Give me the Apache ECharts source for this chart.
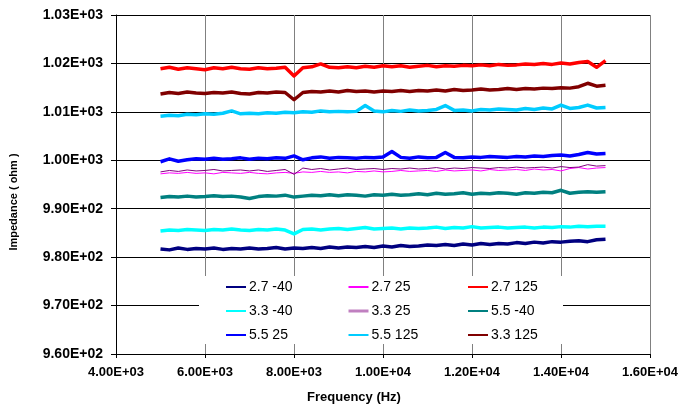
<!DOCTYPE html>
<html>
<head>
<meta charset="utf-8">
<script src="https://cdn.jsdelivr.net/npm/echarts@6/dist/echarts.min.js"></script>
<style>
html,body{margin:0;padding:0;background:#fff;}
#chart{width:682px;height:409px;}
</style>
</head>
<body>
<div id="chart"></div>
<script>
const freq = [5000,5200,5400,5600,5800,6000,6200,6400,6600,6800,
  7000,7200,7400,7600,7800,8000,8200,8400,8600,8800,
  9000,9200,9400,9600,9800,10000,10200,10400,10600,10800,
  11000,11200,11400,11600,11800,12000,12200,12400,12600,12800,
  13000,13200,13400,13600,13800,14000,14200,14400,14600,14800,15000];

const s27m40 = [981.7,981.5,981.9,981.6,981.8,981.7,981.9,981.6,981.8,981.7,
  981.9,981.7,981.8,982.0,981.7,981.9,981.8,982.0,981.8,982.1,
  981.9,982.1,982.0,982.2,982.0,982.3,982.1,982.4,982.2,982.3,
  982.5,982.4,982.6,982.4,982.7,982.5,982.8,982.6,982.8,982.7,
  983.0,982.8,983.1,982.9,983.2,983.1,983.3,983.4,983.2,983.6,983.7];
const s27p25 = [997.2,997.4,997.3,997.5,997.3,997.4,997.2,997.5,997.4,997.3,
  997.5,997.3,997.2,997.4,997.5,997.3,997.6,997.5,997.7,997.5,
  997.6,997.4,997.7,997.6,997.8,997.6,997.7,997.9,997.7,997.8,
  997.9,997.7,998.0,997.8,997.9,998.0,997.8,998.1,997.9,998.0,
  998.1,997.9,998.2,998.0,998.1,997.8,998.3,998.5,998.2,998.4,998.5];
const s27p125 = [1018.9,1019.2,1018.8,1019.1,1018.9,1018.7,1019.1,1018.9,1019.2,1018.9,
  1018.8,1019.1,1018.9,1019.0,1019.2,1017.4,1019.1,1019.3,1019.9,1019.2,
  1019.1,1019.3,1019.1,1019.4,1019.2,1019.5,1019.3,1019.5,1019.2,1019.4,
  1019.6,1019.3,1019.5,1019.4,1019.6,1019.5,1019.7,1019.5,1019.8,1019.6,
  1019.7,1019.9,1019.8,1020.0,1019.8,1020.1,1019.9,1020.2,1020.4,1019.2,1020.6];
const s33m40 = [985.4,985.6,985.5,985.7,985.6,985.5,985.7,985.6,985.8,985.6,
  985.5,985.7,985.6,985.8,985.6,984.8,985.7,985.8,985.6,985.8,
  985.9,985.7,985.9,986.1,985.8,985.9,986.0,985.8,986.0,985.9,
  986.0,986.2,985.9,986.1,986.0,986.3,986.0,986.1,986.2,986.0,
  986.1,986.2,986.0,986.2,986.1,986.3,986.2,986.4,986.3,986.4,986.4];
const s33p25 = [997.6,997.9,997.7,998.0,997.8,997.9,998.1,997.8,997.9,998.0,
  997.8,998.0,997.7,997.9,998.1,997.1,998.4,998.1,998.3,998.0,
  998.2,998.4,998.1,998.2,998.3,998.1,998.3,998.2,998.4,998.2,
  998.3,998.5,998.2,998.4,998.3,998.5,998.4,998.3,998.5,998.4,
  998.6,998.4,998.5,998.6,998.4,998.7,998.5,998.6,999.1,998.8,998.9];
const s55m40 = [992.3,992.5,992.4,992.6,992.4,992.5,992.7,992.5,992.6,992.4,
  992.1,992.5,992.7,992.6,992.8,992.4,992.6,992.8,992.7,992.9,
  992.7,992.9,992.8,992.6,992.9,992.8,993.0,992.8,992.9,993.1,
  992.9,993.2,993.0,993.1,993.3,993.0,993.2,993.1,993.3,993.2,
  993.0,993.3,993.2,993.4,993.3,993.8,993.2,993.4,993.5,993.4,993.5];
const s55p25 = [999.7,1000.3,999.8,1000.1,1000.3,1000.2,1000.4,1000.2,1000.3,1000.5,
  1000.2,1000.4,1000.3,1000.5,1000.4,1000.9,1000.1,1000.5,1000.7,1000.4,
  1000.6,1000.5,1000.4,1000.6,1000.5,1000.7,1001.8,1000.6,1000.4,1000.7,
  1000.5,1000.6,1001.6,1000.6,1000.5,1000.7,1000.6,1000.8,1000.7,1000.6,
  1000.8,1000.7,1000.9,1000.8,1001.0,1001.1,1000.9,1001.2,1001.6,1001.3,1001.4];
const s55p125 = [1009.1,1009.3,1009.2,1009.5,1009.4,1009.6,1009.5,1009.7,1010.2,1009.6,
  1009.7,1009.6,1009.8,1009.7,1009.9,1009.8,1010.0,1009.9,1010.2,1010.0,
  1010.1,1010.0,1010.1,1011.3,1010.2,1010.0,1010.3,1010.1,1010.4,1010.2,
  1010.3,1010.5,1011.3,1010.3,1010.4,1010.2,1010.5,1010.4,1010.6,1010.5,
  1010.4,1010.7,1010.5,1010.8,1010.6,1011.4,1010.7,1010.9,1011.4,1010.8,1010.9];
const s33p125 = [1013.7,1014.0,1013.8,1014.1,1013.9,1013.8,1014.0,1013.9,1014.1,1013.8,
  1013.7,1014.0,1013.9,1014.1,1014.0,1012.5,1014.0,1014.2,1014.1,1014.3,
  1014.1,1014.4,1014.2,1014.3,1014.1,1014.3,1014.2,1014.4,1014.2,1014.4,
  1014.3,1014.5,1014.3,1014.6,1014.4,1014.5,1014.7,1014.5,1014.6,1014.8,
  1014.6,1014.8,1014.7,1014.9,1014.8,1015.0,1014.9,1015.2,1015.9,1015.3,1015.5];

const seriesNames = ['2.7 -40','2.7 25','2.7 125','3.3 -40','3.3 25','5.5 -40','5.5 25','5.5 125','3.3 125'];
const seriesValues = [s27m40,s27p25,s27p125,s33m40,s33p25,s55m40,s55p25,s55p125,s33p125];
const seriesColors = ['#000080','#FF00FF','#FF0000','#00FFFF','#800080','#008080','#0000FF','#00CCFF','#800000'];
const seriesWidths = [3.5,1,3.5,3.5,1,3.5,3.5,3.5,3.5];

const legendCols = [['2.7 -40','3.3 -40','5.5 25'],['2.7 25','3.3 25','5.5 125'],['2.7 125','5.5 -40','3.3 125']];
const legendLefts = [225,347,467];

const yTitle = 'Impedance ( ohm )';
const xTitle = 'Frequency (Hz)';

function sci(v){
  const s = Number(v).toExponential(2);
  const parts = s.split('e');
  const n = parseInt(parts[1],10);
  return parts[0] + 'E' + (n<0?'-':'+') + String(Math.abs(n)).padStart(2,'0');
}

const FONT = "'Liberation Sans', Arial, sans-serif";
const chart = echarts.init(document.getElementById('chart'), null, {renderer:'canvas'});

const series = seriesNames.map((name,k)=>({
  name: name,
  type: 'line',
  data: freq.map((f,i)=>[f, seriesValues[k][i]]),
  symbol: 'none',
  showSymbol: false,
  animation: false,
  z: 2,
  lineStyle: {color: seriesColors[k], width: seriesWidths[k], join:'round'},
  itemStyle: {color: seriesColors[k]}
}));

const legends = legendCols.map((col,c)=>({
  orient: 'vertical',
  left: legendLefts[c],
  top: 280,
  padding: 0,
  itemWidth: 20,
  itemHeight: 14,
  itemGap: 10,
  z: 5,
  itemStyle: {color:'rgba(0,0,0,0)', borderColor:'rgba(0,0,0,0)', borderWidth:0, opacity:0},
  data: col.map(n => n === '3.3 25' ? {name:n, lineStyle:{color:'#c080c0', width:3}} : n),
  textStyle: {fontFamily: FONT, fontSize: 14, color:'#000', padding:[0,0,0,-2]},
  selectedMode: false
}));

chart.setOption({
  animation: false,
  backgroundColor: '#fff',
  grid: {left:116, right:32, top:15, bottom:55, containLabel:false},
  xAxis: {
    type:'value', min:4000, max:16000, interval:2000,
    axisLine:{show:true, lineStyle:{color:'#000', width:1}},
    axisTick:{show:true, length:4, lineStyle:{color:'#000'}},
    axisLabel:{formatter: sci, fontFamily: FONT, fontSize:13, fontWeight:'bold', color:'#000', margin:12},
    splitLine:{show:true, lineStyle:{color:'#808080', width:1}}
  },
  yAxis: {
    type:'value', min:960, max:1030, interval:10,
    axisLine:{show:true, lineStyle:{color:'#000', width:1}},
    axisTick:{show:true, length:5, lineStyle:{color:'#000'}},
    axisLabel:{formatter: sci, fontFamily: FONT, fontSize:14, fontWeight:'bold', color:'#000', margin:13},
    splitLine:{show:true, lineStyle:{color:'#000', width:1}}
  },
  legend: legends,
  graphic: {elements: [
    {type:'rect', z:3, zlevel:0, shape:{x:199, y:276, width:364, height:68}, style:{fill:'#fff'}},
    {type:'text', z:5, x:14, y:202, rotation: Math.PI/2,
      style:{text: yTitle, font: "bold 11px " + FONT, fill:'#000', textAlign:'center', textVerticalAlign:'middle'}},
    {type:'text', z:5, x:354, y:397,
      style:{text: xTitle, font: "bold 13px " + FONT, fill:'#000', textAlign:'center', textVerticalAlign:'middle'}}
  ]},
  series: series
});
</script>
</body>
</html>
